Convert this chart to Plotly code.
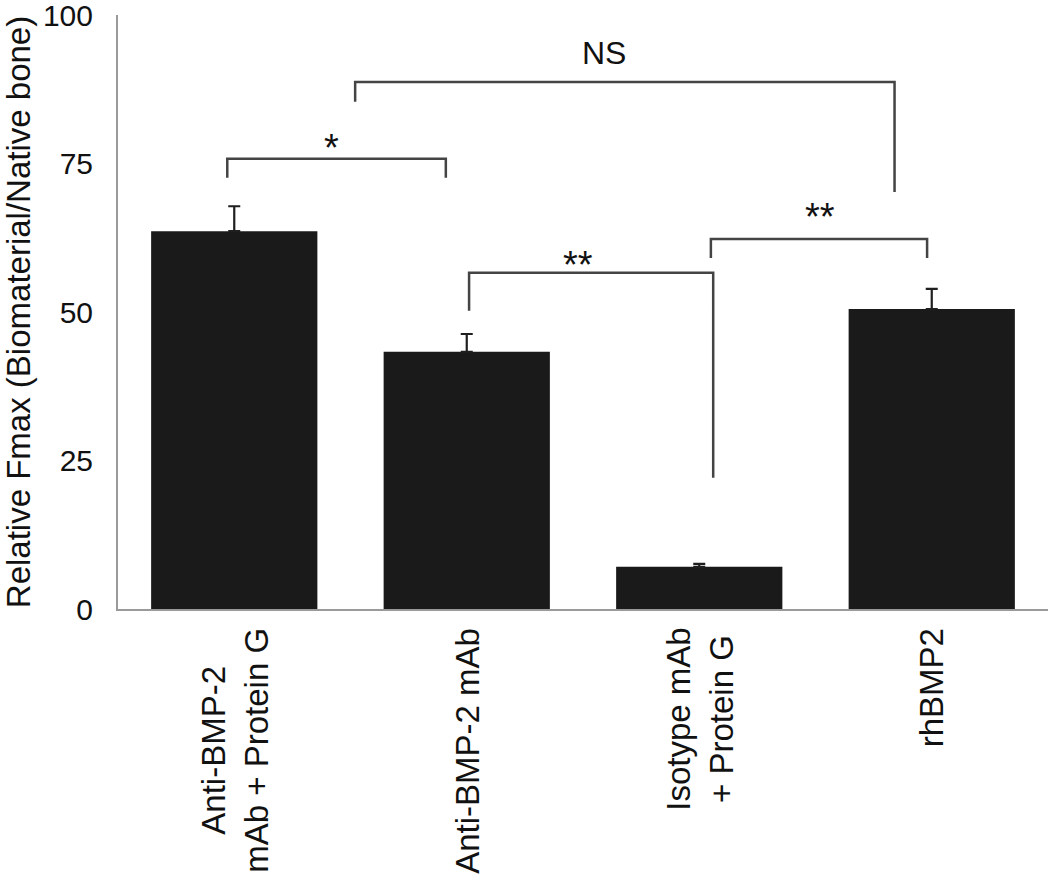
import plotly.graph_objects as go

categories = ["Anti-BMP-2<br>mAb + Protein G", "Anti-BMP-2 mAb", "Isotype mAb<br>+ Protein G", "rhBMP2"]
values = [63.6, 43.3, 7.1, 50.5]
errors = [4.2, 3.0, 0.5, 3.4]
y_ticks = [0, 25, 50, 75, 100]

# significance brackets
bracket_x_left = [-0.03, 0.52, 1.01, 2.05]
bracket_x_right = [0.91, 2.84, 2.06, 2.98]
bracket_y_top = [75.8, 88.7, 56.6, 62.3]
bracket_y_left_end = [72.6, 85.4, 50.2, 59.1]
bracket_y_right_end = [72.6, 70.2, 22.1, 59.1]
bracket_labels = ["*", "NS", "**", "**"]
label_x = [0.42, 1.59, 1.48, 2.52]
label_y = [77.6, 93.6, 57.9, 66.0]

FONT = "Liberation Sans, Arial, Helvetica, sans-serif"

fig = go.Figure()
fig.add_trace(go.Bar(
    x=categories, y=values,
    marker=dict(color="#1a1a1a", line=dict(width=0)),
    width=0.715,
    error_y=dict(type="data", array=errors, arrayminus=[0] * len(errors), symmetric=False,
                 visible=True, color="#1f1f1f", thickness=2.2, width=6),
    showlegend=False,
))

for i in range(len(bracket_labels)):
    fig.add_trace(go.Scatter(
        x=[bracket_x_left[i], bracket_x_left[i], bracket_x_right[i], bracket_x_right[i]],
        y=[bracket_y_left_end[i], bracket_y_top[i], bracket_y_top[i], bracket_y_right_end[i]],
        mode="lines", line=dict(color="#444444", width=2.5),
        showlegend=False, hoverinfo="skip", xaxis="x2",
    ))
    is_ns = bracket_labels[i] == "NS"
    fig.add_annotation(
        x=label_x[i], y=label_y[i], xref="x2", yref="y",
        text=bracket_labels[i], showarrow=False,
        font=dict(family=FONT, size=32 if is_ns else 38, color="#111111"),
        xanchor="center", yanchor="middle",
    )

# category labels (rotated, centred lines)
for i, cat in enumerate(categories):
    fig.add_annotation(
        x=i, y=0, xref="x2", yref="paper", yshift=-17,
        text=cat, showarrow=False, textangle=-90, align="center",
        font=dict(family=FONT, size=33, color="#111111"),
        xanchor="center", yanchor="top",
    )

fig.update_layout(
    width=1050, height=884,
    margin=dict(l=118, r=2, t=15, b=275),
    paper_bgcolor="white", plot_bgcolor="white",
    font=dict(family=FONT, color="#111111"),
    xaxis=dict(
        type="category", range=[-0.5, 3.5], automargin=False,
        showline=True, linecolor="#9a9a9a", linewidth=2,
        showgrid=False, zeroline=False, ticks="", showticklabels=False,
    ),
    xaxis2=dict(range=[-0.5, 3.5], overlaying="x", visible=False, showgrid=False, zeroline=False),
    yaxis=dict(
        range=[0, 100], tickvals=y_ticks, automargin=False,
        showline=True, linecolor="#9a9a9a", linewidth=2,
        showgrid=False, zeroline=False, ticks="",
        tickfont=dict(family=FONT, size=30, color="#111111"),
        ticklabelstandoff=17, ticklabeloverflow="allow",
        title=dict(text="Relative Fmax (Biomaterial/Native bone)",
                   font=dict(family=FONT, size=33, color="#111111"), standoff=12),
    ),
)

fig.write_html("out.html", config={"displayModeBar": False},
               post_script="document.body.style.margin='0';document.body.style.overflow='hidden';")
